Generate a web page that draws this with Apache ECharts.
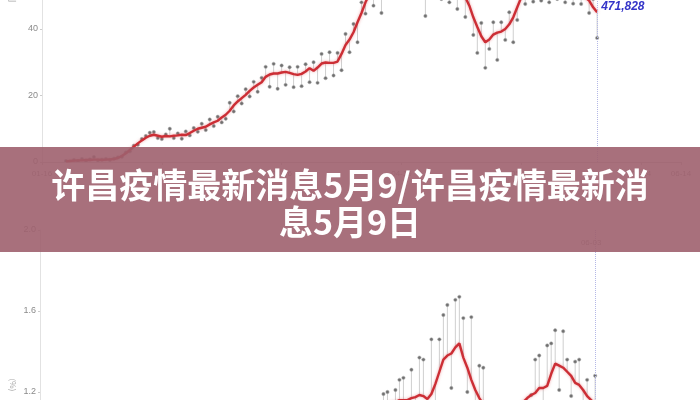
<!DOCTYPE html>
<html>
<head>
<meta charset="utf-8">
<script src="https://cdn.jsdelivr.net/npm/echarts@6/dist/echarts.min.js"></script>
<style>html,body{margin:0;padding:0;background:#fff;}#c{width:700px;height:400px;}</style>
</head>
<body>
<div id="c"></div>
<script>
// ---- data ----
const topStart = 6;   // first day index of top series
const topAvg = [
  0.2,0.3,0.4,0.5,0.5,0.6,0.6,0.7,0.7,0.6,
  0.7,0.8,0.9,1.2,1.8,2.6,3.6,4.6,5.6,6.5,
  7.3,7.9,8.2,7.9,7.6,7.8,7.7,7.9,8.0,8.2,
  8.1,8.7,9.4,10.0,10.3,10.6,11.3,11.9,12.4,13.4,
  14.2,15.4,17.0,18.2,19.2,20.2,21.4,22.4,23.2,24.0,
  25.6,26.3,26.6,26.6,26.9,27.1,26.8,26.4,26.2,26.5,
  27.2,28.2,27.4,28.4,29.6,29.9,29.8,29.8,30.2,32.5,
  35.2,36.8,39.0,42.0,44.8,48.0,50.5,52.0,53,54,
  54.5,55,55.5,55,55.5,56,55.5,55,55,54.5,
  54,54,53.5,53,52.5,52,51.5,51,50.5,50,
  49.5,47.0,43.5,40.6,37.8,36.0,36.8,38.3,38.9,39.2,
  40.0,41.4,43.5,46.5,49.5,51,52,52.5,53,52.5,
  52.5,52,52.5,52,51.5,51.5,51,50.5,50.5,50,
  49.5,48.5,46.5,45
];
const topDaily = [
  0.3,0.1,0.6,0.3,0.9,0.4,0.8,1.5,0.5,0.7,
  0.9,0.6,1.0,1.4,1.6,2.9,3.2,4.9,5.2,6.9,
  7.8,8.8,9.0,7.2,6.9,8.3,10.0,7.2,8.6,7.0,
  9.2,8.0,10.2,9.1,11.5,9.6,12.8,10.8,13.6,11.9,
  13.0,17.8,15.2,19.8,17.6,21.9,19.7,24.1,21.1,25.3,
  28.6,22.6,29.5,22.0,29.0,23.2,28.5,22.5,28.6,22.8,
  29.4,24.0,30.0,23.8,32.5,25.2,33.0,26.0,32.8,27.6,
  38.5,33.0,41.5,36.0,48.0,44.6,54,47,57,44.8,
  58,52,59,51,58,53,60,50.5,58,49.5,
  43.9,57,50,57,49,56,48,55,46,53,
  43.6,50,38.2,32.8,41.8,28.3,34,42,30.7,42,
  36.7,45,36,42.7,53,47.5,55,48.2,56,48.5,
  57,48,56,49,55,48,54,47.6,54,47.5,
  53,44.8,49,37.3
];
const botStart = 85;
const botAvg = [
  1.10,1.12,1.14,1.15,1.15,1.16,1.16,1.16,1.17,1.175,
  1.185,1.18,1.165,1.19,1.24,1.30,1.36,1.38,1.39,1.42,
  1.44,1.37,1.32,1.26,1.21,1.17,1.14,1.12,1.10,1.09,
  1.08,1.08,1.09,1.10,1.11,1.13,1.15,1.17,1.185,1.195,
  1.22,1.22,1.23,1.29,1.34,1.33,1.32,1.30,1.28,1.245,
  1.235,1.21,1.18,1.16,1.14
];
const botDaily = [
  1.02,1.19,1.20,1.05,1.21,1.26,1.27,1.06,1.31,1.08,
  1.37,1.36,1.03,1.46,1.10,1.46,1.58,1.63,1.22,1.655,
  1.67,1.565,1.20,1.57,1.05,1.33,1.32,1.02,1.12,0.98,
  1.14,0.97,1.13,1.00,1.14,1.02,1.12,1.05,1.185,1.36,
  1.38,1.10,1.43,1.44,1.505,1.21,1.50,1.36,1.18,1.35,
  1.36,1.08,1.26,1.05,1.28
];
const lastDay = 139;
const xTickLabels = ['01-16','02-15','03-16','04-15','05-15','06-14'];
const endLabelText = '471,828';
const markLabelText = '06-03';
const bannerLine1 = '许昌疫情最新消息5月9/许昌疫情最新消';
const bannerLine2 = '息5月9日';

// ---- build ----
function pairs(start, arr){ return arr.map((v,i)=>[start+i, v]); }
function stems(start, daily, avg){ return daily.map((v,i)=>[start+i, v, avg[i]]); }

function renderStem(params, api){
  const a = api.coord([api.value(0), api.value(2)]);
  const b = api.coord([api.value(0), api.value(1)]);
  return {type:'group', children:[
    {type:'line', shape:{x1:a[0],y1:a[1],x2:b[0],y2:b[1]}, style:{stroke:'#cfcfcf', lineWidth:1}},
    {type:'circle', shape:{cx:b[0],cy:b[1],r:1.7}, style:{fill:'#707070', stroke:'#b0b0b0', lineWidth:0.5}}
  ]};
}

const chart = echarts.init(document.getElementById('c'), null, {renderer:'canvas'});
const redStyle = {color:'#cc2e35', width:2.4, shadowColor:'rgba(225,90,95,0.55)', shadowBlur:3};
const vline = {color:'#b4b8e6', width:1, type:'dotted'};

chart.setOption({
  animation:false,
  backgroundColor:'#ffffff',
  grid:[
    {left:42, right:19, top:0, height:162, outerBoundsMode:'none', containLabel:false},
    {left:40, right:21, top:230, height:243, outerBoundsMode:'none', containLabel:false}
  ],
  xAxis:[
    {type:'value', gridIndex:0, min:0, max:160, interval:30,
     axisLine:{lineStyle:{color:'#cccccc'}}, axisTick:{lineStyle:{color:'#cccccc'}, length:3},
     axisLabel:{color:'#999', fontSize:8, formatter:(v)=>xTickLabels[Math.round(v/30)]||''},
     splitLine:{show:false}},
    {type:'value', gridIndex:1, min:0, max:160, show:false, splitLine:{show:false}}
  ],
  yAxis:[
    {type:'value', gridIndex:0, min:0, max:48.7, interval:20,
     axisLine:{show:true, lineStyle:{color:'#e2e2e2'}}, axisTick:{show:true, length:2, lineStyle:{color:'#ccc'}},
     axisLabel:{color:'#8a8a8a', fontSize:9, margin:4, showMaxLabel:false, fontFamily:'Liberation Sans'},
     splitLine:{show:false}},
    {type:'value', gridIndex:1, min:0.8, max:2.0, interval:0.4,
     axisLine:{show:true, lineStyle:{color:'#e2e2e2'}}, axisTick:{show:true, length:2, lineStyle:{color:'#ccc'}},
     axisLabel:{color:'#8a8a8a', fontSize:9, margin:4, formatter:(v)=>v.toFixed(1), fontFamily:'Liberation Sans'},
     splitLine:{show:false}}
  ],
  series:[
    {type:'custom', xAxisIndex:0, yAxisIndex:0, clip:true, renderItem:renderStem,
     encode:{x:0, y:1}, data:stems(topStart, topDaily, topAvg), z:2},
    {type:'line', xAxisIndex:0, yAxisIndex:0, data:pairs(topStart, topAvg), showSymbol:false,
     lineStyle:redStyle, itemStyle:{color:'#cc2e35'}, z:3, clip:true,
     endLabel:{show:true, formatter:endLabelText, color:'#3434c8', fontStyle:'italic', fontWeight:'bold',
       fontSize:12, fontFamily:'Liberation Sans', offset:[0,-6], distance:4},
     markLine:{symbol:'none', silent:true, lineStyle:vline, label:{show:false}, data:[{xAxis:lastDay}]}},
    {type:'custom', xAxisIndex:1, yAxisIndex:1, clip:true, renderItem:renderStem,
     encode:{x:0, y:1}, data:stems(botStart, botDaily, botAvg), z:2},
    {type:'line', xAxisIndex:1, yAxisIndex:1, data:pairs(botStart, botAvg), showSymbol:false,
     lineStyle:redStyle, itemStyle:{color:'#cc2e35'}, z:3, clip:true,
     markLine:{symbol:'none', silent:true, lineStyle:vline,
       label:{show:true, position:'end', formatter:markLabelText, color:'#999', fontSize:8, offset:[-4,22]},
       data:[{xAxis:lastDay}]}}
  ],
  graphic:[
    {type:'text', x:12, y:2, rotation:-Math.PI/2, style:{text:'病例', fill:'#aaa', font:'8px "Noto Sans CJK SC"', textAlign:'right', textVerticalAlign:'middle'}, z:50},
    {type:'text', x:13, y:385, rotation:-Math.PI/2, style:{text:'(%)', fill:'#aaa', font:'8px "Noto Sans CJK SC"', textAlign:'center', textVerticalAlign:'middle'}, z:50},
    {type:'rect', x:0, y:147, shape:{width:700, height:105}, style:{fill:'rgba(158,96,110,0.9)'}, z:100},
    {type:'text', x:350, y:185, style:{text:bannerLine1, fill:'#ffffff', font:'bold 34px "Noto Sans CJK SC"', textAlign:'center', textVerticalAlign:'middle'}, z:101},
    {type:'text', x:350, y:222, style:{text:bannerLine2, fill:'#ffffff', font:'bold 34px "Noto Sans CJK SC"', textAlign:'center', textVerticalAlign:'middle'}, z:101}
  ]
});
</script>
</body>
</html>
